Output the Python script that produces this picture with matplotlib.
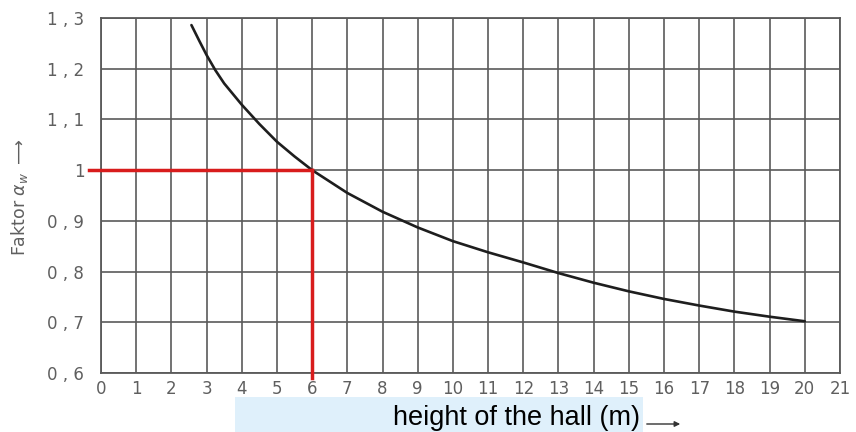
import numpy as np
import matplotlib
matplotlib.use("Agg")
from matplotlib import pyplot as plt
from matplotlib.patches import Rectangle

# factor alpha_w over hall height
height = [2.57, 2.8, 3, 3.25, 3.5, 4, 4.5, 5, 5.5, 6, 7, 8, 9, 10, 11, 12, 13, 14, 15, 16, 17, 18, 19, 20]
factor = [1.286, 1.254, 1.227, 1.197, 1.171, 1.129, 1.091, 1.056, 1.027, 1.0, 0.955, 0.918,
          0.887, 0.860, 0.838, 0.818, 0.797, 0.778, 0.761, 0.746, 0.733, 0.721, 0.711, 0.702]

x_ticks = list(range(0, 22))
y_ticks = [0.6, 0.7, 0.8, 0.9, 1.0, 1.1, 1.2, 1.3]
y_labels = ["0 , 6", "0 , 7", "0 , 8", "0 , 9", "1", "1 , 1", "1 , 2", "1 , 3"]

# reading example: 6 m hall -> factor 1
read_h = 6
read_f = 1.0

grid_col = "#5a5a5a"
text_col = "#5f5f5f"

fig = plt.figure(figsize=(8.56, 4.32), dpi=100)
ax = fig.add_axes([101 / 856, 59 / 432, 739 / 856, 355 / 432])

ax.set_xlim(0, 21)
ax.set_ylim(0.6, 1.3)
ax.set_xticks(x_ticks)
ax.set_yticks(y_ticks)
ax.set_yticklabels(y_labels)
ax.grid(True, color=grid_col, lw=1.2)
ax.set_axisbelow(True)
for s in ax.spines.values():
    s.set_color(grid_col)
    s.set_linewidth(1.3)
ax.tick_params(length=0, labelsize=12, labelcolor=text_col)
ax.tick_params(axis="y", pad=12)
ax.tick_params(axis="x", pad=5)

ax.plot(height, factor, color="#1e1e1e", lw=1.9, solid_capstyle="round",
        solid_joinstyle="round", zorder=3)

# red reading lines
ax.plot([-0.35, read_h], [read_f, read_f], color="#d81c1c", lw=2.5, clip_on=False, zorder=4)
ax.plot([read_h, read_h], [read_f, 0.59], color="#d81c1c", lw=2.5, clip_on=False, zorder=4)

# y axis caption
fig.text(20 / 856, 1 - 197 / 432, r"Faktor $\alpha_w$ $\longrightarrow$", rotation=90,
         ha="center", va="center", fontsize=12.5, color=text_col)

# x axis caption on light blue band
fig.patches.append(Rectangle((235 / 856, 0), (643 - 235) / 856, 35 / 432,
                             transform=fig.transFigure, facecolor="#dff0fb",
                             edgecolor="none"))
fig.text(640 / 856, 7 / 432, "height of the hall (m)", ha="right", va="baseline",
         fontsize=19.5, family="Liberation Sans", color="black")
fig.add_artist(matplotlib.patches.FancyArrowPatch(
    (644 / 856, 8 / 432), (683 / 856, 8 / 432), transform=fig.transFigure,
    arrowstyle="-|>", mutation_scale=8, color="#333333", lw=1))

fig.savefig("out.png", dpi=100)
